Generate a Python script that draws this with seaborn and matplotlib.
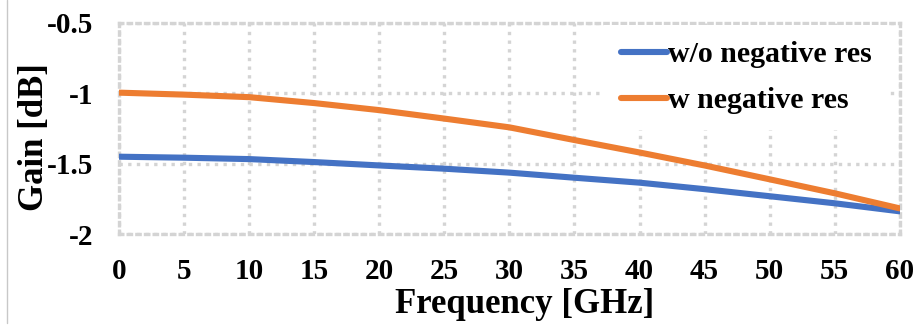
import matplotlib
matplotlib.use("Agg")
import matplotlib.pyplot as plt
from matplotlib.lines import Line2D
import seaborn as sns
import pandas as pd

# Frequency sweep points (GHz) and simulated gain (dB)
freq_ghz = [0, 5, 10, 15, 20, 25, 30, 35, 40, 45, 50, 55, 60]
gain_without = [-1.450, -1.457, -1.467, -1.488, -1.512, -1.535, -1.563,
                -1.599, -1.634, -1.680, -1.730, -1.780, -1.837]
gain_with = [-0.996, -1.010, -1.028, -1.070, -1.120, -1.180, -1.242,
             -1.332, -1.420, -1.512, -1.610, -1.709, -1.816]
series_names = ["w/o negative res", "w negative res"]
series_colors = ["#4472C4", "#ED7D31"]

x_ticks = list(range(0, 61, 5))
y_ticks = [-2, -1.5, -1, -0.5]
y_tick_labels = ["-2", "-1.5", "-1", "-0.5"]

df = pd.DataFrame({
    "Frequency": freq_ghz * 2,
    "Gain": gain_without + gain_with,
    "Series": [series_names[0]] * len(freq_ghz) + [series_names[1]] * len(freq_ghz),
})

sns.set_theme(style="white")
plt.rcParams["font.family"] = ["Liberation Serif", "DejaVu Serif"]
plt.rcParams["font.weight"] = "bold"
plt.rcParams["text.color"] = "black"
plt.rcParams["xtick.color"] = "black"
plt.rcParams["ytick.color"] = "black"
plt.rcParams["axes.labelcolor"] = "black"

fig = plt.figure(figsize=(9.19, 3.27), dpi=100)
ax = fig.add_axes([0.130, 0.2835, 0.8488, 0.6471])

grid_color = "#d4d4d4"
dot_style = (0, (1.0, 1.6))

sns.lineplot(data=df, x="Frequency", y="Gain", hue="Series",
             palette=dict(zip(series_names, series_colors)),
             linewidth=4.4, ax=ax, legend=False, zorder=3)

ax.set_xlim(0, 60)
ax.set_ylim(-2, -0.5)
ax.set_xticks(x_ticks)
ax.set_xticklabels([str(t) for t in x_ticks])
ax.set_yticks(y_ticks)
ax.set_yticklabels(y_tick_labels)
ax.tick_params(axis="both", length=0, labelsize=21, colors="black")
ax.tick_params(axis="x", pad=17)
ax.tick_params(axis="y", pad=19)
for lbl in ax.get_xticklabels() + ax.get_yticklabels():
    lbl.set_fontweight("bold")

ax.grid(True, color=grid_color, linewidth=2.4, linestyle=dot_style,
        dash_capstyle="butt", zorder=0)
for sp in ax.spines.values():
    sp.set_visible(True)
    sp.set_color(grid_color)
    sp.set_linewidth(2.4)
    sp.set_linestyle(dot_style)

ax.set_xlabel("Frequency [GHz]", fontsize=25, fontweight="bold")
ax.set_ylabel("Gain [dB]", fontsize=25, fontweight="bold")
ax.xaxis.set_label_coords(0.52, -0.255)
ax.yaxis.set_label_coords(-0.088, 0.46)

handles = [Line2D([0], [0], color=c, linewidth=4.4, solid_capstyle="round")
           for c in series_colors]
leg = ax.legend(handles, series_names, loc="upper right",
                bbox_to_anchor=(0.986, 0.989), frameon=True,
                facecolor="white", edgecolor="none", framealpha=1.0,
                fancybox=False, prop={"size": 21.5, "weight": "bold"},
                handlelength=1.55, handletextpad=0.05, labelspacing=0.62,
                borderpad=0.55, borderaxespad=0.0)
leg.set_zorder(4)

# thin grey rule along the left edge of the canvas
fig.add_artist(Line2D([0.0076, 0.0076], [0.012, 1.0], transform=fig.transFigure,
                      color="#c8c8c8", linewidth=1.0))

fig.savefig("out.png", dpi=100)
